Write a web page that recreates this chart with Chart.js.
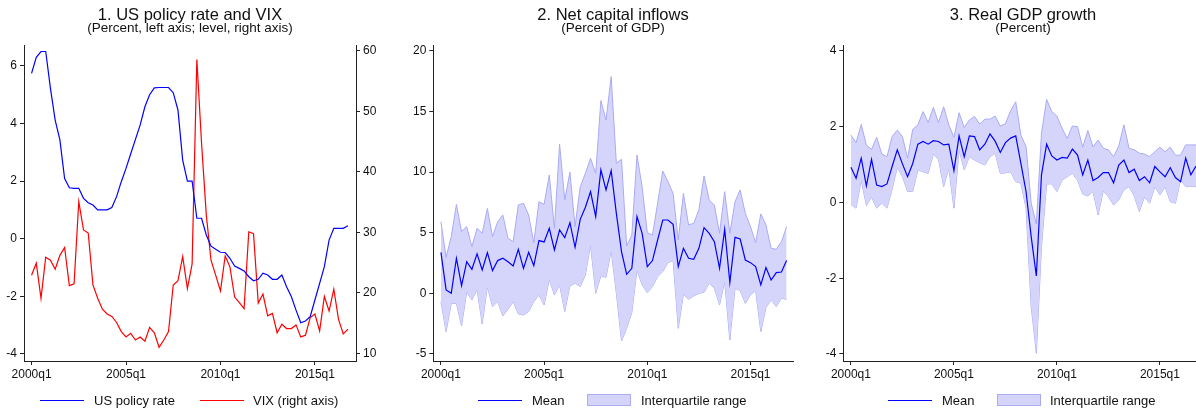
<!DOCTYPE html>
<html>
<head>
<meta charset="utf-8">
<script src="https://cdn.jsdelivr.net/npm/chart.js@4"></script>
<style>
  html, body { margin:0; padding:0; background:#fff; }
  body { width:1196px; height:413px; position:relative; overflow:hidden; font-family:"Liberation Sans", Arial, sans-serif; color:#111; }
  .cv { position:absolute; top:0; }
  .title { position:absolute; width:420px; text-align:center; font-size:16.5px; line-height:16.5px; white-space:nowrap; }
  .sub { position:absolute; width:420px; text-align:center; font-size:13.5px; line-height:13.5px; white-space:nowrap; }
  .lg { position:absolute; font-size:13px; line-height:13px; white-space:nowrap; top:394px; }
  .ln { position:absolute; height:0; top:400px; width:44px; }
  .bx { position:absolute; top:394px; width:42px; height:10px; background:rgb(213,213,251); border:1px solid rgb(170,170,245); }
</style>
</head>
<body>
<canvas id="c1" class="cv" width="390" height="413" style="left:0px"></canvas>
<canvas id="c2" class="cv" width="400" height="413" style="left:400px"></canvas>
<canvas id="c3" class="cv" width="386" height="413" style="left:810px"></canvas>

<div class="title" style="left:-20px;top:6px">1. US policy rate and VIX</div>
<div class="sub" style="left:-20px;top:21px">(Percent, left axis; level, right axis)</div>
<div class="title" style="left:403px;top:6px">2. Net capital inflows</div>
<div class="sub" style="left:403px;top:21px">(Percent of GDP)</div>
<div class="title" style="left:813px;top:6px">3. Real GDP growth</div>
<div class="sub" style="left:813px;top:21px">(Percent)</div>

<div class="ln" style="left:40px;border-top:1.2px solid #0000ff"></div>
<div class="lg" style="left:94px">US policy rate</div>
<div class="ln" style="left:200px;border-top:1.2px solid #ff0000"></div>
<div class="lg" style="left:253px">VIX (right axis)</div>

<div class="ln" style="left:478px;border-top:1.2px solid #0000ff"></div>
<div class="lg" style="left:532px">Mean</div>
<div class="bx" style="left:587px"></div>
<div class="lg" style="left:641px">Interquartile range</div>

<div class="ln" style="left:888px;border-top:1.2px solid #0000ff"></div>
<div class="lg" style="left:942px">Mean</div>
<div class="bx" style="left:997px"></div>
<div class="lg" style="left:1050px">Interquartile range</div>

<script>
// ---- categories ----
const startYear = 2000;
const nQuarters = 68;
const quarters = [];
for (let k = 0; k < nQuarters; k++) quarters.push((startYear + Math.floor(k / 4)) + 'q' + (k % 4 + 1));
const xTickLabels = ['2000q1', '2005q1', '2010q1', '2015q1'];

// ---- panel 1 ----
const policyRate = [5.74,6.3,6.5,6.5,5.22,4.12,3.43,2.09,1.77,1.75,1.75,1.4,1.25,1.17,1.0,1.0,1.0,1.08,1.46,1.98,
  2.44,2.95,3.45,3.95,4.58,5.0,5.24,5.25,5.25,5.25,5.07,4.47,2.73,2.0,2.0,0.71,0.71,0.13,-0.26,-0.37,
  -0.47,-0.48,-0.68,-0.95,-1.03,-1.12,-1.32,-1.46,-1.41,-1.2,-1.26,-1.41,-1.41,-1.26,-1.67,-2.01,-2.48,-2.92,-2.86,-2.71,
  -2.13,-1.55,-0.97,-0.05,0.36,0.36,0.36,0.45];
const vix = [22.9,24.9,19.1,25.9,25.4,23.9,26.2,27.5,21.2,21.5,35.1,30.4,29.9,21.3,19.1,17.3,16.5,16.1,15.1,13.6,
  12.7,13.3,12.2,12.7,12.0,14.3,13.4,11.0,12.2,13.6,21.3,22.0,26.0,20.7,24.8,58.6,44.7,32.9,25.4,22.9,
  20.3,26.1,24.3,19.3,18.4,17.4,30.1,29.8,18.3,19.8,16.2,16.6,13.4,14.8,14.1,14.1,14.7,12.7,13.0,15.9,
  16.5,13.7,19.4,17.0,20.6,15.6,13.2,14.0];
const leftTicks1 = [-4,-2,0,2,4,6];
const rightTicks1 = [10,20,30,40,50,60];

// ---- panel 2 ----
const capMean = [3.38,0.28,0.0,2.89,0.63,2.61,1.98,3.25,1.93,3.36,1.87,2.7,2.89,2.61,2.26,3.63,2.06,3.38,2.28,4.35,
  4.24,5.36,3.58,5.23,4.59,5.83,3.8,6.1,7.1,8.4,6.33,10.18,8.53,10.12,6.6,3.44,1.57,2.06,6.33,4.95,
  2.2,2.7,4.4,6.05,6.05,5.69,2.2,3.71,2.89,2.8,3.71,5.42,4.95,4.26,2.06,5.28,0.88,4.62,4.48,2.75,
  2.53,2.2,0.69,2.12,1.1,1.71,1.76,2.7];
const capP75 = [5.9,2.97,4.68,7.34,5.09,5.5,3.85,5.36,4.95,7.0,4.68,5.91,6.46,4.54,4.26,7.29,7.43,6.46,4.18,7.56,
  7.34,9.76,5.36,12.3,7.7,10.0,5.5,8.8,9.9,11.14,9.9,15.9,14.3,17.88,10.73,11.06,3.9,4.81,11.41,8.8,
  5.0,4.81,7.43,10.09,9.21,8.25,4.4,8.25,5.64,5.78,6.88,9.68,7.7,7.29,4.95,8.39,4.95,7.56,8.53,6.6,
  5.5,4.18,6.55,5.64,3.71,3.63,4.26,5.5];
const capP25 = [-0.69,-3.16,-0.83,-0.83,-2.7,0.14,-0.55,0.33,-2.53,0.55,-1.1,-0.69,-1.87,-1.32,-0.69,-1.71,-1.79,-1.51,-0.69,-0.14,
  -0.96,1.16,-0.14,0.69,-1.51,0.6,0.83,0.55,1.51,3.99,0.0,1.43,1.32,3.52,0.0,-3.93,-2.89,-1.6,1.93,0.69,
  0.06,0.55,1.38,1.79,2.53,2.7,-2.89,-0.06,-0.5,-0.22,0.0,0.08,0.83,0.41,-0.96,0.96,-3.85,0.41,0.22,-0.83,
  -0.14,0.22,-3.16,-1.18,-0.55,-1.1,-0.41,-0.5];
const yTicks2 = [-5,0,5,10,15,20];

// ---- panel 3 ----
const gdpMean = [0.93,0.64,1.17,0.44,1.14,0.46,0.42,0.49,0.95,1.39,1.02,0.68,1.03,1.54,1.61,1.54,1.63,1.61,1.52,1.54,
  0.84,1.76,1.21,1.76,1.74,1.39,1.54,1.81,1.62,1.32,1.58,1.7,1.76,1.03,0.29,-0.9,-1.94,0.73,1.54,1.23,
  1.12,1.19,1.17,1.41,1.25,0.73,1.12,0.58,0.66,0.79,0.79,0.52,0.99,1.12,0.79,0.88,0.58,0.68,0.52,0.95,
  0.81,0.68,0.92,0.66,0.55,1.17,0.73,0.96];
const gdpP75 = [1.78,1.58,2.06,1.52,1.4,1.72,1.28,1.21,1.74,1.91,1.74,1.17,1.93,2.05,2.4,2.11,2.51,2.11,2.53,2.05,
  1.72,2.37,1.98,2.18,2.27,2.07,2.2,2.2,2.28,2.02,2.08,2.42,2.66,1.78,1.47,-0.02,-0.57,1.83,2.72,2.4,
  2.28,1.96,1.69,2.02,2.0,1.46,1.9,1.47,1.65,1.43,1.39,1.21,1.49,2.05,1.43,1.39,1.3,1.28,1.21,1.34,
  1.46,1.34,1.46,1.25,1.25,1.52,1.52,1.52];
const gdpP25 = [-0.05,-0.15,0.59,-0.08,0.14,-0.15,-0.02,-0.15,0.35,0.93,0.68,0.29,0.29,0.86,0.81,0.77,1.28,1.14,0.42,0.9,
  -0.15,1.39,0.86,1.21,1.12,1.05,0.99,1.21,1.3,0.77,0.78,0.81,0.55,0.51,-0.15,-2.75,-3.98,-1.17,0.49,0.49,
  0.29,0.59,0.68,0.77,0.59,0.22,0.17,0.29,-0.33,0.31,0.15,-0.07,0.07,0.33,0.42,0.17,-0.24,0.15,-0.02,0.42,
  0.2,0.42,0.02,-0.02,0.59,0.42,0.42,0.42];
const yTicks3 = [-4,-2,0,2,4];

// ---- helpers ----
const FONT = { family: '"Liberation Sans", Arial, sans-serif', size: 12 };
const TXT = '#111';
const AXC = '#222';
const xTickPos = xTickLabels.map(l => quarters.indexOf(l));
const pts = arr => arr.map((v, k) => ({ x: k, y: v }));
const fixTicks = list => (scale) => { scale.ticks = list.map(v => ({ value: v })); };
const fixW = w => (scale) => { scale.width = w; };
const fixH = h => (scale) => { scale.height = h; };

function xScale(min, max) {
  return {
    type: 'linear', min: min, max: max,
    afterBuildTicks: fixTicks(xTickPos),
    afterFit: fixH(52),
    grid: { drawOnChartArea: false, drawTicks: true, tickLength: 4, color: AXC },
    border: { display: true, color: AXC, width: 1 },
    ticks: { font: FONT, color: TXT, padding: 2, maxRotation: 0, autoSkip: false,
      callback: v => quarters[v] }
  };
}
function yScale(min, max, list, pos, w) {
  return {
    type: 'linear', position: pos, min: min, max: max,
    afterBuildTicks: fixTicks(list),
    afterFit: fixW(w),
    grid: { drawOnChartArea: false, drawTicks: true, tickLength: 4, color: AXC },
    border: { display: true, color: AXC, width: 1 },
    ticks: { font: FONT, color: TXT, padding: 3, autoSkip: false, callback: v => String(v) }
  };
}
const baseOpts = (pad) => ({
  responsive: false, animation: false, devicePixelRatio: 1,
  layout: { padding: pad },
  plugins: { legend: { display: false }, title: { display: false }, tooltip: { enabled: false } },
  elements: { point: { radius: 0 }, line: { tension: 0 } }
});
const line = (arr, color, extra) => Object.assign({ data: pts(arr), borderColor: color, borderWidth: 1.2, pointRadius: 0, fill: false }, extra || {});
const BAND_FILL = 'rgb(213,213,251)';
const BAND_LINE = 'rgb(170,170,245)';

// Panel 1
const o1 = baseOpts({ top: 45, left: 0, right: 0, bottom: 0 });
o1.scales = {
  x: xScale(-1.6, 68.7),
  y: yScale(-4.247, 6.726, leftTicks1, 'left', 24),
  y1: yScale(8.73, 60.99, rightTicks1, 'right', 34)
};
new Chart(document.getElementById('c1'), {
  type: 'line',
  data: { datasets: [
    line(policyRate, '#0000ff', { yAxisID: 'y', label: 'US policy rate' }),
    line(vix, '#ff0000', { yAxisID: 'y1', label: 'VIX (right axis)' })
  ] },
  options: o1
});

// Panel 2
const o2 = baseOpts({ top: 45, left: 0, right: 6.7, bottom: 0 });
o2.scales = { x: xScale(-1.48, 68.3), y: yScale(-5.586, 20.49, yTicks2, 'left', 33.3) };
new Chart(document.getElementById('c2'), {
  type: 'line',
  data: { datasets: [
    line(capMean, '#0000ff', { label: 'Mean' }),
    line(capP75, BAND_LINE, { borderWidth: 1, fill: '+1', backgroundColor: BAND_FILL, label: 'Interquartile range' }),
    line(capP25, BAND_LINE, { borderWidth: 1, label: 'p25' })
  ] },
  options: o2
});

// Panel 3
const o3 = baseOpts({ top: 45, left: 0, right: 0, bottom: 0 });
o3.scales = { x: xScale(-1.48, 67.0), y: yScale(-4.185, 4.158, yTicks3, 'left', 33.3) };
new Chart(document.getElementById('c3'), {
  type: 'line',
  data: { datasets: [
    line(gdpMean, '#0000ff', { label: 'Mean' }),
    line(gdpP75, BAND_LINE, { borderWidth: 1, fill: '+1', backgroundColor: BAND_FILL, label: 'Interquartile range' }),
    line(gdpP25, BAND_LINE, { borderWidth: 1, label: 'p25' })
  ] },
  options: o3
});
</script>
</body>
</html>
